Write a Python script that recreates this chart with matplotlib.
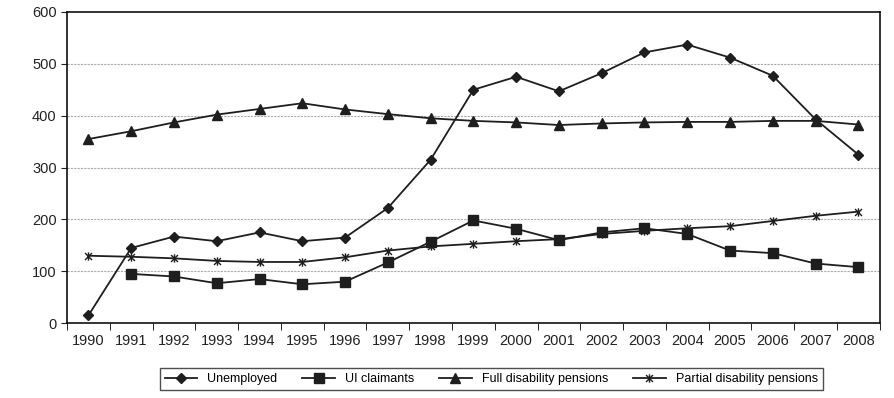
import matplotlib.pyplot as plt
import numpy as np
from matplotlib.path import Path

plt.rcParams["font.family"] = ["Liberation Sans", "DejaVu Sans"]

YEARS = [str(y) for y in range(1990, 2009)]
UNEMPLOYED = [15, 145, 167, 158, 175, 158, 165, 222, 315, 450, 475, 447,
              482, 522, 537, 512, 477, 393, 325]
UI_CLAIMANTS = [None, 95, 90, 77, 85, 75, 80, 117, 157, 198, 182, 160,
                175, 183, 172, 140, 135, 115, 108]
FULL_DISABILITY = [355, 370, 387, 402, 413, 424, 412, 403, 395, 390, 387,
                   382, 385, 387, 388, 388, 390, 390, 383]
PARTIAL_DISABILITY = [130, 128, 125, 120, 118, 118, 127, 140, 148, 153, 158,
                      162, 172, 178, 183, 187, 197, 207, 215]

# x with a vertical bar through it
star_path = Path(
    [(-1, -1), (1, 1), (-1, 1), (1, -1), (0, -1.2), (0, 1.2)],
    [Path.MOVETO, Path.LINETO, Path.MOVETO, Path.LINETO, Path.MOVETO, Path.LINETO],
)

LINE_COLOR = "#1e1e1e"

fig = plt.figure(figsize=(8.94, 3.98), dpi=100)
ax = fig.add_axes([0.075, 0.188, 0.909, 0.782])

x = np.arange(len(YEARS))
ui = np.array([np.nan if v is None else v for v in UI_CLAIMANTS], dtype=float)

ax.plot(x, UNEMPLOYED, color=LINE_COLOR, lw=1.3, marker="D", ms=5.5,
        label="Unemployed")
ax.plot(x, ui, color=LINE_COLOR, lw=1.3, marker="s", ms=6.5,
        label="UI claimants")
ax.plot(x, FULL_DISABILITY, color=LINE_COLOR, lw=1.3, marker="^", ms=7.5,
        label="Full disability pensions")
ax.plot(x, PARTIAL_DISABILITY, color=LINE_COLOR, lw=1.3, marker=star_path,
        ms=6, mew=1.0, label="Partial disability pensions")

ax.set_xlim(-0.5, len(YEARS) - 0.5)
ax.set_ylim(0, 600)
ax.set_yticks(range(0, 601, 100))
ax.set_xticks(x)
ax.set_xticklabels(YEARS)
ax.set_xticks(np.arange(-0.5, len(YEARS), 1), minor=True)
ax.tick_params(axis="x", which="major", length=0, labelsize=10.5, pad=8,
               colors="#222222")
ax.tick_params(axis="x", which="minor", length=5, direction="out")
ax.tick_params(axis="y", length=4, labelsize=10.5, colors="#222222")

for y in range(100, 600, 100):
    ax.axhline(y, color="#aaaaaa", lw=0.8, ls=(0, (2, 1)), zorder=0)

for spine in ax.spines.values():
    spine.set_color("#111111")
    spine.set_linewidth(1.2)

ax.legend(loc="center", bbox_to_anchor=(0.522, -0.18), ncol=4,
          frameon=True, fancybox=False, edgecolor="#222222", fontsize=9,
          handlelength=2.6, columnspacing=2.0, borderpad=0.4)

fig.savefig("out.png")
